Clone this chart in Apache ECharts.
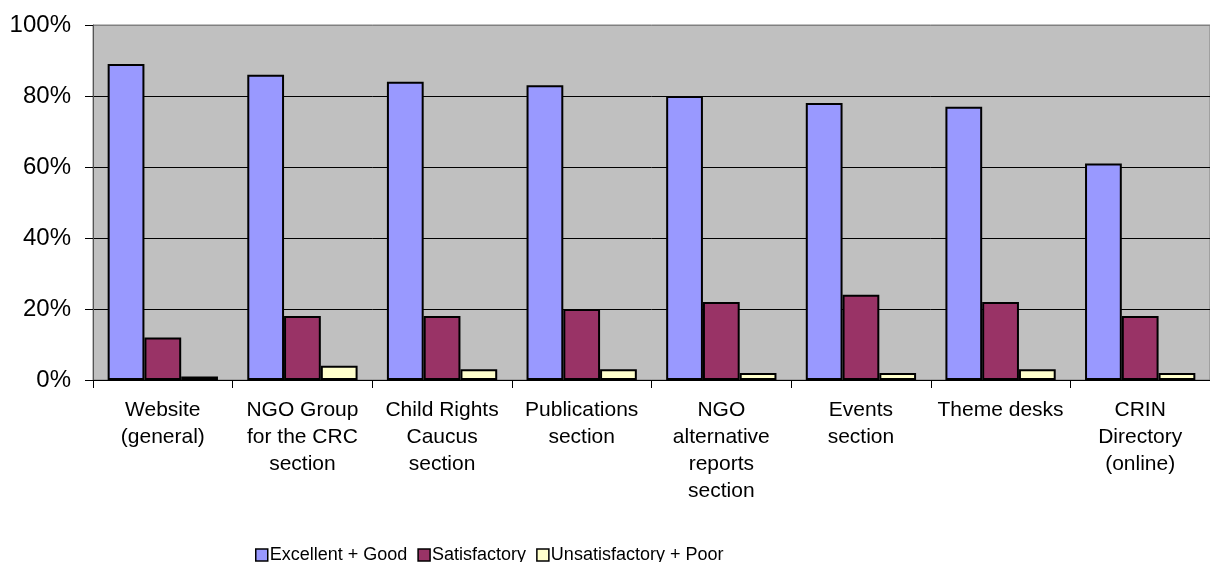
<!DOCTYPE html>
<html>
<head>
<meta charset="utf-8">
<script src="https://cdn.jsdelivr.net/npm/echarts@6/dist/echarts.min.js"></script>
<style>
html,body{margin:0;padding:0;background:#fff;}
#c{width:1210px;height:562px;}
</style>
</head>
<body>
<div id="c"></div>
<script>
const categories = [
  "Website\n(general)",
  "NGO Group\nfor the CRC\nsection",
  "Child Rights\nCaucus\nsection",
  "Publications\nsection",
  "NGO\nalternative\nreports\nsection",
  "Events\nsection",
  "Theme desks",
  "CRIN\nDirectory\n(online)"
];
const seriesNames = ["Excellent + Good", "Satisfactory", "Unsatisfactory + Poor"];
const excellentGood = [89, 86, 84, 83, 80, 78, 77, 61];
const satisfactory = [12, 18, 18, 20, 22, 24, 22, 18];
const unsatisfactoryPoor = [1, 4, 3, 3, 2, 2, 3, 2];
const colors = ["#9999FF", "#993366", "#FFFFCC"];

const font = "Arial, 'Liberation Sans', sans-serif";
const chart = echarts.init(document.getElementById('c'));
const mk = (name, data, color) => ({
  name: name,
  type: 'bar',
  data: data,
  barGap: '0%',
  barCategoryGap: '21%',
  itemStyle: { color: color, borderColor: '#000', borderWidth: 2 },
  animation: false
});
chart.setOption({
  animation: false,
  textStyle: { fontFamily: font },
  grid: {
    left: 93, top: 25, right: -3, bottom: 182,
    show: true, backgroundColor: '#C0C0C0', borderColor: '#808080', borderWidth: 1
  },
  legend: {
    left: 250, top: 541,
    itemWidth: 12, itemHeight: 12, itemGap: 10,
    icon: 'rect',
    textStyle: { fontSize: 18, color: '#000', fontFamily: font, padding: [0, 0, 0, -3] },
    itemStyle: { borderColor: '#000', borderWidth: 1.5 },
    data: seriesNames
  },
  xAxis: {
    type: 'category',
    data: categories,
    axisLine: { show: true, lineStyle: { color: '#000', width: 1 } },
    axisTick: { show: true, length: 8, alignWithLabel: false, lineStyle: { color: '#000' } },
    axisLabel: {
      interval: 0, margin: 17, fontSize: 21, lineHeight: 27, color: '#000', fontFamily: font
    }
  },
  yAxis: {
    type: 'value', min: 0, max: 100, interval: 20,
    axisLine: { show: true, lineStyle: { color: '#555', width: 1 } },
    axisTick: { show: true, length: 8, lineStyle: { color: '#000' } },
    splitLine: { show: true, lineStyle: { color: ['#000', '#000', '#000', '#000', '#000', '#808080'], width: 1 } },
    axisLabel: { formatter: '{value}%', fontSize: 24, margin: 22, color: '#000', fontFamily: font }
  },
  series: [
    mk(seriesNames[0], excellentGood, colors[0]),
    mk(seriesNames[1], satisfactory, colors[1]),
    mk(seriesNames[2], unsatisfactoryPoor, colors[2])
  ]
});
</script>
</body>
</html>
